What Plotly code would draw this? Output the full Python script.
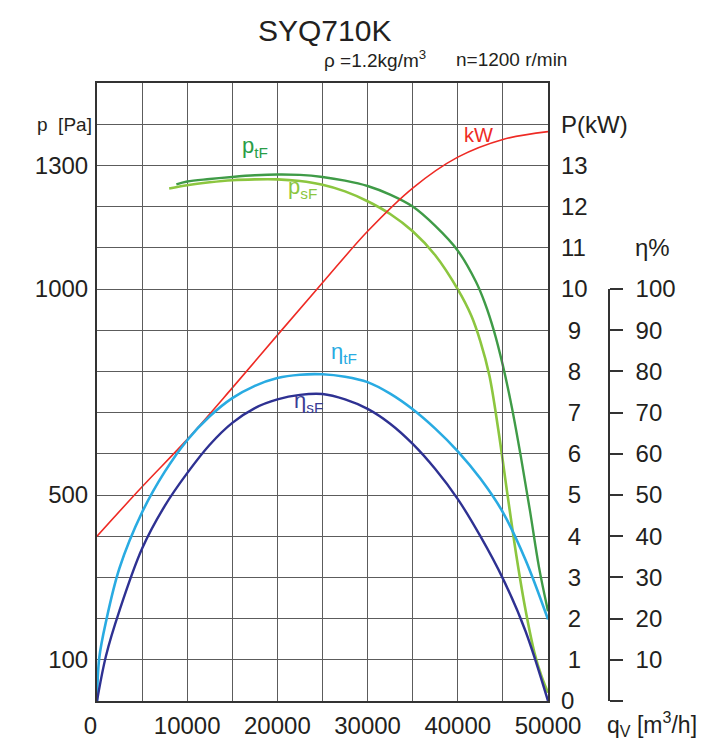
import plotly.graph_objects as go

# ---------------- data ----------------
# Shaft power P [kW]
q_kw = [0, 5000, 10000, 15000, 20000, 25000, 30000, 35000, 40000, 45000, 50000]
kw = [4.0, 5.2, 6.35, 7.6, 8.88, 10.15, 11.4, 12.45, 13.2, 13.63, 13.82]

# Total pressure p_tF [Pa]
q_ptf = [8800, 10000, 12500, 15000, 17500, 20000, 22500, 25000, 27500, 30000, 32500, 35000,
         37500, 40000, 42000, 43000, 44000, 45000, 46000, 47000, 48000, 49000, 50000]
ptf = [1254, 1261, 1267, 1272, 1276, 1278, 1277, 1272, 1263, 1250, 1229, 1200,
       1153, 1093, 1018, 966, 899, 814, 712, 592, 462, 325, 218]

# Static pressure p_sF [Pa]
q_psf = [8000, 10000, 12500, 15000, 17500, 20000, 22500, 25000, 27500, 30000, 32500, 35000,
         37500, 40000, 41500, 42500, 43500, 44500, 45500, 46500, 47500, 48500, 49250, 50000]
psf = [1244, 1252, 1259, 1264, 1266, 1266, 1262, 1253, 1237, 1213, 1182, 1140,
       1082, 999, 935, 873, 790, 657, 502, 352, 222, 117, 62, 20]

# Total efficiency eta_tF [%]
q_etf = [0, 250, 1000, 2500, 5000, 7500, 10000, 12500, 15000, 17500, 20000, 22500, 25000,
         27500, 30000, 32500, 35000, 37500, 40000, 42500, 45000, 47500, 50000]
etf = [0, 10.5, 19.3, 32.3, 45.8, 55.6, 63.3, 69.1, 73.5, 76.5, 78.4, 79.2, 79.3,
       78.7, 77.4, 74.6, 70.8, 66.1, 60.6, 54.0, 45.8, 34.3, 19.8]

# Static efficiency eta_sF [%]
q_esf = [0, 1000, 2500, 5000, 7500, 10000, 12500, 15000, 17500, 20000, 22500, 25000,
         27500, 30000, 32500, 35000, 37500, 40000, 42500, 45000, 47500, 50000]
esf = [0, 11, 22, 37, 47.3, 55.3, 62.2, 67.5, 71.1, 73.2, 74.3, 74.5,
       73.2, 70.9, 67.3, 62.4, 56.3, 49.0, 40.0, 29.7, 17.0, 0]

# tick labels
x_tickvals = [0, 10000, 20000, 30000, 40000, 50000]
x_ticktext = ["0\u00a0\u00a0", "10000", "20000", "30000", "40000", "50000"]
x_minorvals = [5000, 15000, 25000, 35000, 45000]
p_tickvals = [100, 500, 1000, 1300]
p_ticktext = ["100", "500", "1000", "1300"]
kw_tickvals = list(range(0, 15))
kw_ticktext = ["0"] + ["\u00a0" + str(v) for v in range(1, 10)] + ["10", "11", "12", "13", "P(kW)"]
eta_tickvals = list(range(10, 101, 10))
eta_ticktext = [str(v) for v in eta_tickvals]

# ---------------- styling ----------------
FONT = "Liberation Sans, Arial, sans-serif"
TXT = "#231f20"
GRID = "#5c5c5c"
C_RED = "#ee2a24"
C_DG = "#3f9b47"
C_LG = "#8cc63f"
C_LB = "#29abe2"
C_DB = "#2e3192"

W, H = 706, 741
ML, MR, MT, MB = 97, 30, 83, 40
PW = W - ML - MR
PH = H - MT - MB
XEND = 451 / PW


def px2x(px):
    return (px - ML) / PW


def py2y(py):
    return (H - MB - py) / PH


fig = go.Figure()

fig.add_trace(go.Scatter(x=q_kw, y=kw, yaxis="y2", mode="lines",
                         line=dict(color=C_RED, width=1.6, shape="spline", smoothing=1.0),
                         showlegend=False, hoverinfo="skip"))
fig.add_trace(go.Scatter(x=q_ptf, y=ptf, yaxis="y", mode="lines",
                         line=dict(color=C_DG, width=2.4, shape="spline", smoothing=1.0),
                         showlegend=False, hoverinfo="skip"))
fig.add_trace(go.Scatter(x=q_psf, y=psf, yaxis="y", mode="lines",
                         line=dict(color=C_LG, width=2.6, shape="spline", smoothing=1.0),
                         showlegend=False, hoverinfo="skip"))
fig.add_trace(go.Scatter(x=q_etf, y=etf, yaxis="y3", mode="lines",
                         line=dict(color=C_LB, width=2.6, shape="spline", smoothing=1.0),
                         showlegend=False, hoverinfo="skip"))
fig.add_trace(go.Scatter(x=q_esf, y=esf, yaxis="y3", mode="lines",
                         line=dict(color=C_DB, width=2.4, shape="spline", smoothing=1.0),
                         showlegend=False, hoverinfo="skip"))

fig.update_layout(
    width=W, height=H, autosize=False,
    margin=dict(l=ML, r=MR, t=MT, b=MB, pad=0, autoexpand=False),
    paper_bgcolor="white",
    plot_bgcolor="rgba(0,0,0,0)",
    font=dict(family=FONT, color=TXT, size=23),
    showlegend=False,
    xaxis=dict(domain=[0, XEND], range=[0, 50000], tickvals=x_tickvals, ticktext=x_ticktext,
               showgrid=True, gridcolor=GRID, gridwidth=1.3, zeroline=False,
               showline=True, mirror=True, linecolor="#333333", linewidth=2,
               ticks="", tickfont=dict(size=24), ticklabelstandoff=2, automargin=False,
               minor=dict(tickvals=x_minorvals, showgrid=True, gridcolor=GRID, gridwidth=1.3)),
    yaxis=dict(domain=[0, 1], range=[0, 1500], tickvals=p_tickvals, ticktext=p_ticktext,
               showgrid=False, zeroline=False, showline=True, mirror=True,
               linecolor="#333333", linewidth=2, ticks="", tickfont=dict(size=24),
               ticklabelstandoff=2, automargin=False),
    yaxis2=dict(overlaying="y", side="right", anchor="x", range=[0, 15],
                tickvals=kw_tickvals, ticktext=kw_ticktext, showgrid=True, gridcolor=GRID,
                gridwidth=1.3, zeroline=False, showline=False, ticks="",
                tickfont=dict(size=24), ticklabelstandoff=12, automargin=False),
    yaxis3=dict(anchor="free", position=px2x(609), side="right", domain=[0, 10 / 15],
                range=[0, 100], tickvals=eta_tickvals, ticktext=eta_ticktext,
                showgrid=False, zeroline=False, showline=True, linecolor="#333333",
                linewidth=1.5, ticks="outside", ticklen=13, tickwidth=1.5,
                tickcolor="#333333", tickfont=dict(size=24), ticklabelstandoff=8,
                automargin=False,
                minor=dict(tickvals=[0], ticks="outside", ticklen=13, tickwidth=1.5,
                           tickcolor="#333333", showgrid=False)),
)

ann = []
ann.append(dict(text="SYQ710K", xref="paper", yref="paper", x=px2x(324), y=py2y(31),
                xanchor="center", yanchor="middle", showarrow=False, font=dict(size=30)))
ann.append(dict(text="ρ =1.2kg/m<sup>3</sup>", xref="paper", yref="paper", x=px2x(322), y=py2y(59),
                xanchor="left", yanchor="middle", showarrow=False, font=dict(size=19)))
ann.append(dict(text="n=1200 r/min", xref="paper", yref="paper", x=px2x(454), y=py2y(59),
                xanchor="left", yanchor="middle", showarrow=False, font=dict(size=19)))
ann.append(dict(text="p  [Pa]", xref="paper", yref="y", x=0, y=1400, xshift=-3,
                xanchor="right", yanchor="middle", showarrow=False, font=dict(size=19)))
ann.append(dict(text="η%", xref="paper", yref="y2", x=px2x(633), y=11,
                xanchor="left", yanchor="middle", showarrow=False, font=dict(size=24)))
ann.append(dict(text="q<sub>V</sub> [m<sup>3</sup>/h]", xref="paper", yref="paper", x=px2x(605),
                y=py2y(724), xanchor="left", yanchor="middle", showarrow=False, font=dict(size=23)))
# curve labels
ann.append(dict(text="p<sub>tF</sub>", xref="x", yref="y2", x=15900, y=13.45,
                xanchor="left", yanchor="middle", showarrow=False, font=dict(size=22, color="#2a9d48")))
ann.append(dict(text="p<sub>sF</sub>", xref="x", yref="y2", x=20900, y=12.45,
                xanchor="left", yanchor="middle", showarrow=False, font=dict(size=22, color=C_LG)))
ann.append(dict(text="kW", xref="x", yref="y2", x=40500, y=13.75,
                xanchor="left", yanchor="middle", showarrow=False, font=dict(size=20, color=C_RED)))
ann.append(dict(text="η<sub>tF</sub>", xref="x", yref="y2", x=25700, y=8.45,
                xanchor="left", yanchor="middle", showarrow=False, font=dict(size=22, color=C_LB)))
ann.append(dict(text="η<sub>sF</sub>", xref="x", yref="y2", x=21600, y=7.25,
                xanchor="left", yanchor="middle", showarrow=False, font=dict(size=22, color="#3a3d96")))
fig.update_layout(annotations=ann)

fig.write_html("out.html", config={"displayModeBar": False},
               post_script="document.body.style.margin='0px';document.body.style.overflow='hidden';")
